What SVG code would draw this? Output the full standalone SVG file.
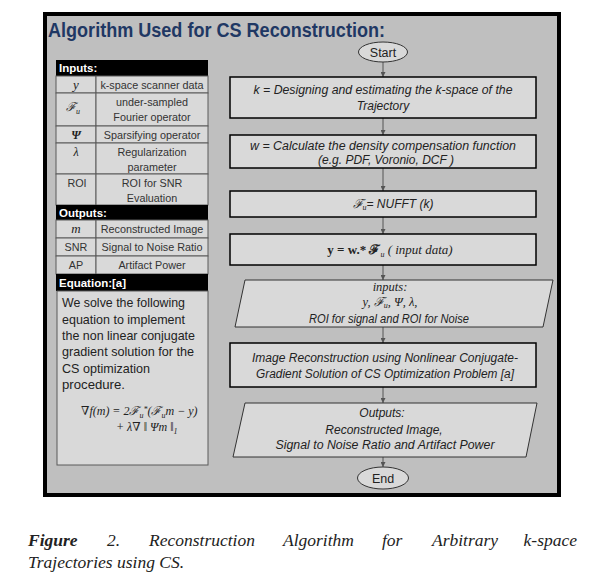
<svg xmlns="http://www.w3.org/2000/svg" width="607" height="582" viewBox="0 0 607 582">
<defs>
<marker id="ah" viewBox="0 0 6 6" refX="6" refY="3" markerWidth="5" markerHeight="5" orient="auto" markerUnits="userSpaceOnUse">
<path d="M0,0 L6,3 L0,6 z" fill="#555"/>
</marker>
</defs>
<style>
.frame{fill:#bfbfbf;stroke:#000;stroke-width:4}
.cell{fill:#d9d9d9;stroke:#5a5a5a;stroke-width:1}
.hdr{fill:#000}
.hdrt{font-family:"Liberation Sans",Arial,sans-serif;font-weight:bold;font-size:11.5px;fill:#fff}
.t{font-family:"Liberation Sans",Arial,sans-serif;font-size:10.8px;fill:#333;text-anchor:middle}
.p{font-family:"Liberation Sans",Arial,sans-serif;font-size:13.5px;fill:#222}
.m{font-family:"Liberation Serif","DejaVu Serif",serif;font-style:italic;fill:#222}
.box{fill:#d9d9d9;stroke:#000;stroke-width:1.5}
.para{fill:#d9d9d9;stroke:#333;stroke-width:1}
.fl{font-family:"Liberation Sans",Arial,sans-serif;font-style:italic;font-size:12px;fill:#222;text-anchor:middle}
.ov{fill:#d9d9d9;stroke:#333;stroke-width:1}
.ot{font-family:"Liberation Sans",Arial,sans-serif;font-size:12.5px;fill:#222;text-anchor:middle}
.conn{stroke:#555;stroke-width:1;fill:none;marker-end:url(#ah)}
.cap{font-family:"Liberation Serif","Times New Roman",serif;font-style:italic;font-size:17.5px;fill:#222}
</style>
<rect x="0" y="0" width="607" height="582" fill="#fff"/>
<rect class="frame" x="45" y="14" width="514" height="481"/>
<text x="48" y="37" font-family="'Liberation Sans',Arial,sans-serif" font-weight="bold" font-size="20.5" fill="#1f3864" textLength="337" lengthAdjust="spacingAndGlyphs">Algorithm Used for CS Reconstruction:</text>

<g id="inputs-table">
<rect class="hdr" x="56" y="60" width="152" height="16"/>
<text class="hdrt" x="59" y="72">Inputs:</text>
<rect class="cell" x="56" y="76" width="40" height="17"/><rect class="cell" x="96" y="76" width="112" height="17"/>
<text class="m" x="76" y="89" font-size="13" text-anchor="middle">y</text>
<text class="t" x="152" y="89">k-space scanner data</text>
<rect class="cell" x="56" y="93" width="40" height="33"/><rect class="cell" x="96" y="93" width="112" height="33"/>
<text class="m" x="73" y="111" font-size="12" text-anchor="middle">ℱ<tspan font-size="8" dy="3">u</tspan></text>
<text class="t" x="152" y="106">under-sampled</text>
<text class="t" x="152" y="121">Fourier operator</text>
<rect class="cell" x="56" y="126" width="40" height="17"/><rect class="cell" x="96" y="126" width="112" height="17"/>
<text class="m" x="76" y="139" font-size="12" font-style="normal" font-weight="bold" text-anchor="middle">Ψ</text>
<text class="t" x="152" y="139">Sparsifying operator</text>
<rect class="cell" x="56" y="143" width="40" height="31"/><rect class="cell" x="96" y="143" width="112" height="31"/>
<text class="m" x="76" y="156" font-size="12" font-style="normal" text-anchor="middle">λ</text>
<text class="t" x="152" y="156">Regularization</text>
<text class="t" x="152" y="171">parameter</text>
<rect class="cell" x="56" y="174" width="40" height="31"/><rect class="cell" x="96" y="174" width="112" height="31"/>
<text class="t" x="77" y="187">ROI</text>
<text class="t" x="152" y="187">ROI for SNR</text>
<text class="t" x="152" y="202">Evaluation</text>
</g>

<g id="outputs-table">
<rect class="hdr" x="56" y="205" width="152" height="15"/>
<text class="hdrt" x="59" y="217">Outputs:</text>
<rect class="cell" x="56" y="220" width="40" height="18"/><rect class="cell" x="96" y="220" width="112" height="18"/>
<text class="m" x="76" y="233" font-size="13" text-anchor="middle">m</text>
<text class="t" x="152" y="233">Reconstructed Image</text>
<rect class="cell" x="56" y="238" width="40" height="18"/><rect class="cell" x="96" y="238" width="112" height="18"/>
<text class="t" x="76" y="251">SNR</text>
<text class="t" x="152" y="251">Signal to Noise Ratio</text>
<rect class="cell" x="56" y="256" width="40" height="18"/><rect class="cell" x="96" y="256" width="112" height="18"/>
<text class="t" x="76" y="269">AP</text>
<text class="t" x="152" y="269">Artifact Power</text>
</g>

<g id="equation-panel">
<rect class="hdr" x="56" y="274" width="152" height="17"/>
<text class="hdrt" x="59" y="287">Equation:[a]</text>
<rect class="cell" x="57" y="291" width="151" height="174"/>
<text class="p" x="62" y="307" textLength="123" lengthAdjust="spacingAndGlyphs">We solve the following</text>
<text class="p" x="62" y="324" textLength="123" lengthAdjust="spacingAndGlyphs">equation to implement</text>
<text class="p" x="62" y="340" textLength="133" lengthAdjust="spacingAndGlyphs">the non linear conjugate</text>
<text class="p" x="62" y="356" textLength="132" lengthAdjust="spacingAndGlyphs">gradient solution for the</text>
<text class="p" x="62" y="373" textLength="88" lengthAdjust="spacingAndGlyphs">CS optimization</text>
<text class="p" x="62" y="389" textLength="63" lengthAdjust="spacingAndGlyphs">procedure.</text>
<text class="m" x="81" y="415" font-size="12">∇f(m) = 2ℱ<tspan font-size="8" dy="3">u</tspan><tspan font-size="8" dy="-6">*</tspan><tspan dy="3">(ℱ</tspan><tspan font-size="8" dy="3">u</tspan><tspan dy="-3">m − y)</tspan></text>
<text class="m" x="116" y="431" font-size="12">+ λ∇ ‖ Ψm ‖<tspan font-size="8" dy="3">1</tspan></text>
</g>

<g id="connectors">
<line class="conn" x1="383" y1="62" x2="383" y2="77"/>
<line class="conn" x1="383" y1="118" x2="383" y2="135"/>
<line class="conn" x1="383" y1="168" x2="383" y2="191"/>
<line class="conn" x1="383" y1="217" x2="383" y2="234"/>
<line class="conn" x1="383" y1="265" x2="383" y2="280"/>
<line class="conn" x1="383" y1="327" x2="383" y2="343"/>
<line class="conn" x1="383" y1="387" x2="383" y2="403"/>
<line class="conn" x1="383" y1="457" x2="383" y2="467"/>
</g>

<g id="start">
<ellipse class="ov" cx="383" cy="52" rx="24.5" ry="10"/>
<text class="ot" x="383" y="56.5">Start</text>
</g>

<g id="step-k">
<rect class="box" x="230" y="77" width="306" height="41"/>
<text class="fl" x="383" y="94" textLength="259" lengthAdjust="spacingAndGlyphs">k = Designing and estimating the k-space of the</text>
<text class="fl" x="383" y="110">Trajectory</text>
</g>

<g id="step-w">
<rect class="box" x="230" y="135" width="306" height="33"/>
<text class="fl" x="383" y="150" textLength="266" lengthAdjust="spacingAndGlyphs">w = Calculate the density compensation function</text>
<text class="fl" x="386" y="164">(e.g. PDF, Voronio, DCF )</text>
</g>

<g id="step-fu">
<rect class="box" x="230" y="191" width="306" height="26"/>
<text class="fl" x="393" y="208"><tspan class="m" font-size="12.5">ℱ</tspan><tspan class="m" font-size="8" dy="2">u</tspan><tspan dy="-2">= NUFFT (k)</tspan></text>
</g>

<g id="step-y">
<rect class="box" x="230" y="234" width="306" height="31"/>
<text class="m" x="390" y="254" font-size="13" text-anchor="middle"><tspan font-style="normal" font-weight="bold">y = w.* ℱ</tspan><tspan font-size="8" dy="3">u</tspan><tspan dy="-3"> ( input data)</tspan></text>
</g>

<g id="inputs-io">
<polygon class="para" points="245,280 553,280 543,327 235,327"/>
<text class="m" x="390" y="291" font-size="12.5" text-anchor="middle">inputs:</text>
<text class="m" x="390" y="306" font-size="12.5" text-anchor="middle" font-style="normal">y, ℱ<tspan font-size="8" dy="2">u</tspan><tspan dy="-2">, Ψ, λ,</tspan></text>
<text class="fl" x="389" y="322.5" textLength="160" lengthAdjust="spacingAndGlyphs">ROI for signal and ROI for Noise</text>
</g>

<g id="step-recon">
<rect class="box" x="230" y="343" width="306" height="44"/>
<text class="fl" x="385" y="361.5" textLength="266" lengthAdjust="spacingAndGlyphs">Image Reconstruction using Nonlinear Conjugate-</text>
<text class="fl" x="385" y="377.5" textLength="258" lengthAdjust="spacingAndGlyphs">Gradient Solution of CS Optimization Problem [a]</text>
</g>

<g id="outputs-io">
<polygon class="para" points="245,403 537,403 526,457 233,457"/>
<text class="fl" x="382" y="417">Outputs:</text>
<text class="fl" x="384" y="434">Reconstructed Image,</text>
<text class="fl" x="385" y="449" textLength="219" lengthAdjust="spacingAndGlyphs">Signal to Noise Ratio and Artifact Power</text>
</g>

<g id="end">
<ellipse class="ov" cx="383" cy="478" rx="25.5" ry="11"/>
<text class="ot" x="383" y="482.5">End</text>
</g>

<g id="caption">
<text class="cap" x="28" y="546" font-weight="bold">Figure</text>
<text class="cap" x="107" y="546">2.</text>
<text class="cap" x="149" y="546">Reconstruction</text>
<text class="cap" x="283" y="546">Algorithm</text>
<text class="cap" x="382" y="546">for</text>
<text class="cap" x="432" y="546">Arbitrary</text>
<text class="cap" x="577" y="546" text-anchor="end">k-space</text>
<text class="cap" x="28" y="568">Trajectories using CS.</text>
</g>
</svg>
